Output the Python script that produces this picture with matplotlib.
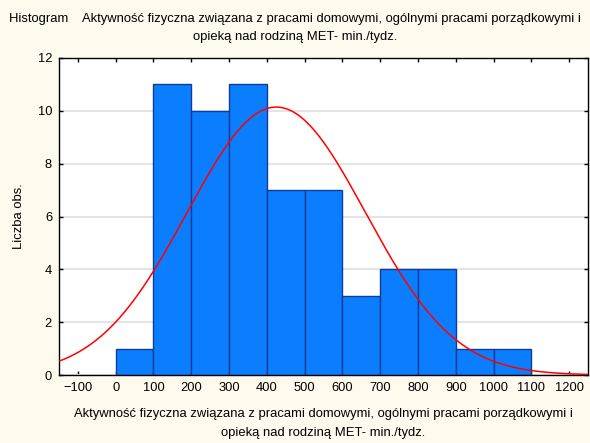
import numpy as np
import matplotlib
matplotlib.use("Agg")
import matplotlib.pyplot as plt

plt.rcParams['font.family'] = ['Liberation Sans', 'DejaVu Sans']

# Data
bin_edges = [0, 100, 200, 300, 400, 500, 600, 700, 800, 900, 1000, 1100]
counts = [1, 11, 10, 11, 7, 7, 3, 4, 4, 1, 1]
fit_mean = 425.0
fit_sd = 236.0
x_ticks = [-100, 0, 100, 200, 300, 400, 500, 600, 700, 800, 900, 1000, 1100, 1200]
y_ticks = [0, 2, 4, 6, 8, 10, 12]

title = ("Histogram    Aktywność fizyczna związana z pracami domowymi, ogólnymi pracami porządkowymi i\n"
         "opieką nad rodziną MET- min./tydz.")
xlabel = ("Aktywność fizyczna związana z pracami domowymi, ogólnymi pracami porządkowymi i\n"
          "opieką nad rodziną MET- min./tydz.")
ylabel = "Liczba obs."

bg = '#FEFAEE'
fig = plt.figure(figsize=(5.9, 4.43), dpi=100, facecolor=bg)
ax = fig.add_axes([59/590, 1-375/443, (588-59)/590, (375-58)/443])
ax.set_facecolor('white')

edges = np.array(bin_edges, dtype=float)
widths = np.diff(edges)
ax.bar(edges[:-1], counts, width=widths, align='edge', color='#0A7EFF',
       edgecolor='#123C9A', linewidth=1.0, zorder=2)

xs = np.linspace(-150, 1250, 600)
n = sum(counts)
bw = widths[0]
ys = n * bw / (fit_sd * np.sqrt(2*np.pi)) * np.exp(-0.5*((xs-fit_mean)/fit_sd)**2)
ax.plot(xs, ys, color='#FF0000', linewidth=1.1, zorder=3)

ax.set_xlim(-150, 1250)
ax.set_ylim(0, 12)
ax.set_xticks(x_ticks)
ax.set_yticks(y_ticks)
ax.yaxis.grid(True, color='#E4E4E4', linewidth=1.5, zorder=0)
ax.set_axisbelow(True)
ax.tick_params(axis='both', direction='in', length=3, width=1, labelsize=9.3,
               top=True, right=True, colors='black', pad=5)
for s in ax.spines.values():
    s.set_color('black')
    s.set_linewidth(1.0)

ax.set_xlabel(xlabel, fontsize=9.4, labelpad=10, linespacing=1.75)
ax.set_ylabel(ylabel, fontsize=9.4, labelpad=9)
fig.text(0.5, 1-28/443, title, ha='center', va='center', fontsize=9.4, linespacing=1.75)

fig.savefig('out.png', dpi=100, facecolor=bg)
